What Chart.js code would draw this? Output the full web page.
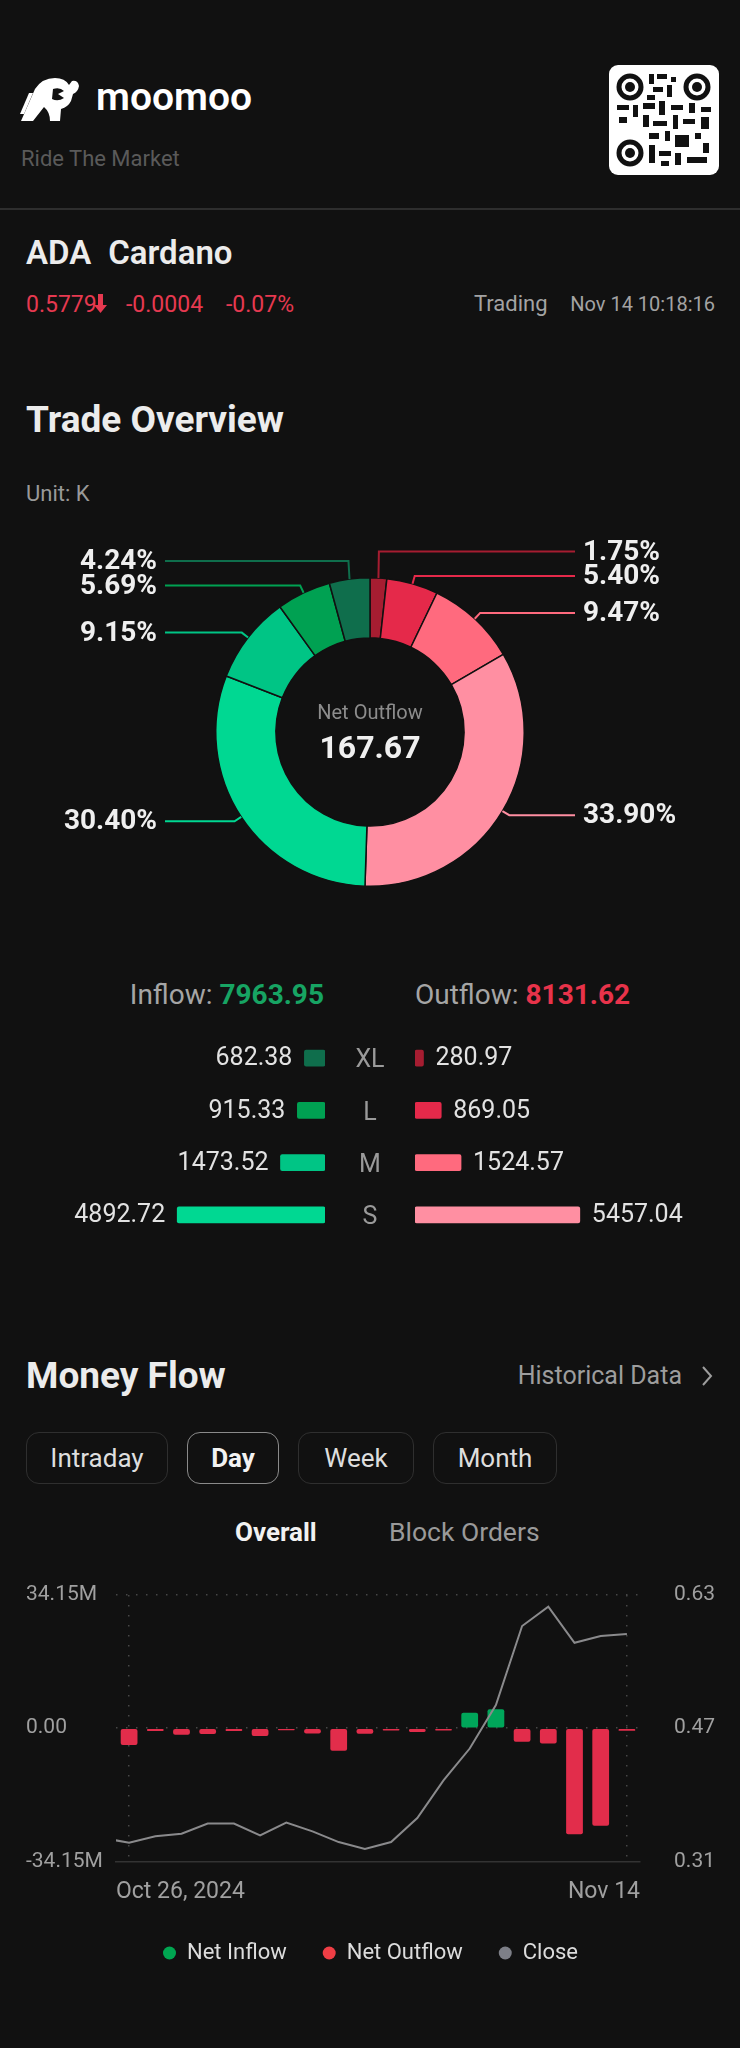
<!DOCTYPE html>
<html>
<head>
<meta charset="utf-8">
<script src="https://cdn.jsdelivr.net/npm/chart.js@4.4.1/dist/chart.umd.min.js"></script>
<style>
  html, body { margin: 0; padding: 0; background: #111111; }
  body { width: 740px; height: 2048px; position: relative; overflow: hidden; font-family: Roboto, "Noto Sans", sans-serif; color: #e8e8e8; }
  .t { position: absolute; line-height: 1; white-space: nowrap; }
  canvas { position: absolute; }
  .tab { position: absolute; top: 1432px; height: 50px; border: 1.5px solid #2f2f2f; border-radius: 13px;
         font-size: 26px; line-height: 50px; text-align: center; color: #dedede; box-sizing: content-box; }
</style>
</head>
<body>

<!-- header -->
<svg style="position:absolute;left:20px;top:76px" width="66" height="46" viewBox="0 0 66 46">
  <path fill="#fff" d="M1 45 L15 13 Q22 2 35 2 Q45 2 49 9 L52 5 Q58 4 59 10 Q58 16 53 18 L51 25 Q48 31 41 33 L40 45 L30 45 Q30 36 24 31 L13 45 Z"/>
  <path fill="#111" d="M33 13 Q40 11 44 15 L38 18 L44 22 Q38 26 32 23 Z"/>
  <path fill="#fff" d="M0 38 L9 17 L13 17 L4 38 Z"/>
</svg>
<div class="t" style="left:96px;top:78px;font-size:39px;font-weight:600;color:#fff">moomoo</div>
<div class="t" style="left:21px;top:148px;font-size:22px;color:#5a5a5a">Ride The Market</div>

<svg style="position:absolute;left:609px;top:65px" width="110" height="110" viewBox="0 0 110 110">
  <rect width="110" height="110" rx="9" fill="#fff"/>
  <g fill="none" stroke="#111" stroke-width="5">
    <circle cx="21" cy="22" r="11"/><circle cx="88" cy="22" r="11"/><circle cx="21" cy="88" r="11"/>
  </g>
  <g fill="#111">
    <circle cx="21" cy="22" r="5"/><circle cx="88" cy="22" r="5"/><circle cx="21" cy="88" r="5"/>
    <rect x="40" y="9" width="5" height="10"/><rect x="48" y="9" width="10" height="5"/><rect x="62" y="12" width="5" height="5"/>
    <rect x="44" y="22" width="10" height="5"/><rect x="58" y="20" width="5" height="12"/><rect x="38" y="30" width="8" height="5"/>
    <rect x="8" y="40" width="12" height="5"/><rect x="24" y="40" width="5" height="12"/><rect x="34" y="38" width="12" height="6"/>
    <rect x="50" y="36" width="6" height="14"/><rect x="62" y="40" width="12" height="5"/><rect x="80" y="38" width="6" height="10"/>
    <rect x="92" y="42" width="10" height="5"/><rect x="10" y="52" width="8" height="6"/><rect x="34" y="50" width="6" height="12"/>
    <rect x="44" y="56" width="14" height="5"/><rect x="64" y="50" width="5" height="14"/><rect x="74" y="54" width="12" height="5"/>
    <rect x="92" y="52" width="8" height="12"/><rect x="40" y="68" width="10" height="6"/><rect x="56" y="66" width="5" height="10"/>
    <rect x="66" y="70" width="14" height="12"/><rect x="86" y="68" width="6" height="6"/><rect x="40" y="80" width="6" height="18"/>
    <rect x="50" y="86" width="12" height="5"/><rect x="66" y="88" width="6" height="12"/><rect x="78" y="92" width="20" height="6"/>
    <rect x="52" y="96" width="8" height="5"/><rect x="94" y="78" width="6" height="10"/>
  </g>
</svg>

<div style="position:absolute;left:0;top:208px;width:740px;height:2px;background:#2e2e2e"></div>

<div class="t" style="left:26px;top:236px;font-size:33px;font-weight:600;color:#ececec">ADA<span style="margin-left:17px">Cardano</span></div>
<div class="t" style="left:26px;top:293px;font-size:23px;color:#e63950">0.5779</div>
<svg style="position:absolute;left:94px;top:294px" width="13" height="19" viewBox="0 0 13 19">
  <path fill="#e63950" d="M4 0 H9 V11 H13 L6.5 19 L0 11 H4 Z"/>
</svg>
<div class="t" style="left:126px;top:293px;font-size:23px;color:#e63950">-0.0004</div>
<div class="t" style="left:226px;top:293px;font-size:23px;color:#e63950">-0.07%</div>
<div class="t" style="left:474px;top:293px;font-size:22px;color:#a3a3a3">Trading</div>
<div class="t" style="right:25px;top:294px;font-size:20px;color:#a3a3a3">Nov 14 10:18:16</div>

<!-- trade overview -->
<div class="t" style="left:26px;top:401px;font-size:37px;font-weight:700;color:#ececec">Trade Overview</div>
<div class="t" style="left:26px;top:483px;font-size:22px;color:#999">Unit: K</div>

<canvas id="donut" width="740" height="400" style="left:0;top:520px;width:740px;height:400px"></canvas>
<div class="t" style="left:0;width:740px;text-align:center;top:702px;font-size:20px;color:#8c8c8c">Net Outflow</div>
<div class="t" style="left:0;width:740px;text-align:center;top:731px;font-size:32px;font-weight:700;color:#f0f0f0">167.67</div>

<div class="t" style="right:416px;top:981px;font-size:28px;color:#a5a5a5">Inflow: <span id="inTotal" style="color:#17a463;font-weight:700"></span></div>
<div class="t" style="left:415px;top:981px;font-size:28px;color:#a5a5a5">Outflow: <span id="outTotal" style="color:#e8334a;font-weight:700"></span></div>

<canvas id="inBars" width="325" height="209" style="left:0;top:1032px;width:325px;height:209px"></canvas>
<canvas id="outBars" width="325" height="209" style="left:415px;top:1032px;width:325px;height:209px"></canvas>
<div id="sizeNames"></div>

<!-- money flow -->
<div class="t" style="left:26px;top:1357px;font-size:37px;font-weight:700;color:#ececec">Money Flow</div>
<div class="t" style="right:58px;top:1363px;font-size:25px;color:#9d9d9d">Historical Data</div>
<svg style="position:absolute;left:701px;top:1365px" width="12" height="22" viewBox="0 0 12 22">
  <polyline points="2,2 10,11 2,20" fill="none" stroke="#9d9d9d" stroke-width="2"/>
</svg>

<div class="tab" style="left:26px;width:140px">Intraday</div>
<div class="tab" style="left:187px;width:90px;border-color:#8a8a8a;color:#f2f2f2;font-weight:700">Day</div>
<div class="tab" style="left:298px;width:114px">Week</div>
<div class="tab" style="left:433px;width:122px">Month</div>

<div class="t" style="left:235px;top:1519px;font-size:26px;font-weight:700;color:#f2f2f2">Overall</div>
<div class="t" style="left:389px;top:1519px;font-size:26.5px;color:#9a9a9a">Block Orders</div>

<canvas id="flowChart" width="740" height="404" style="left:0;top:1570px;width:740px;height:404px"></canvas>

<script>
// ---- trade overview data (unit: K) ----
const sizeLabels = ['XL', 'L', 'M', 'S'];
const inflowK = [682.38, 915.33, 1473.52, 4892.72];
const outflowK = [280.97, 869.05, 1524.57, 5457.04];
const inflowTotal = '7963.95';
const outflowTotal = '8131.62';

// ---- money flow data (net flow in M, close price) ----
const flowDates = ['Oct 26', 'Oct 27', 'Oct 28', 'Oct 29', 'Oct 30', 'Oct 31', 'Nov 1', 'Nov 2', 'Nov 3', 'Nov 4',
                   'Nov 5', 'Nov 6', 'Nov 7', 'Nov 8', 'Nov 9', 'Nov 10', 'Nov 11', 'Nov 12', 'Nov 13', 'Nov 14'];
const netFlow = [-4.3, -0.7, -1.7, -1.5, -0.7, -2.0, -0.5, -1.37, -5.8, -1.45,
                 -0.6, -0.95, -0.6, 3.93, 4.87, -3.5, -3.93, -27.2, -25.0, -0.68];
const closes = [0.3325, 0.3401, 0.3433, 0.3554, 0.3554, 0.3413, 0.3566, 0.3461, 0.3332, 0.3248,
                0.3332, 0.3621, 0.4074, 0.4456, 0.4977, 0.5927, 0.616, 0.5726, 0.5807, 0.5831];
const prevClose = 0.338; // day before the window, clipped at the left edge
const xTickLabels = ['Oct 26, 2024', 'Nov 14'];
const flowTicks = [-34.15, 0, 34.15];
const closeTicks = [0.31, 0.47, 0.63];

const inColors = ['#0f6e4c', '#00a152', '#00c585', '#00d892'];
const outColors = ['#a61d31', '#e5294a', '#ff6a7e', '#ff8fa2'];
const GREEN = '#00a65a';
const RED = '#e22d4b';
const GRID = '#474747';

Chart.defaults.font.family = 'Roboto, "Noto Sans", sans-serif';

document.getElementById('inTotal').textContent = inflowTotal;
document.getElementById('outTotal').textContent = outflowTotal;

// size names between the two bar charts
const rowCenters = [1058, 1110.5, 1163, 1215];
document.getElementById('sizeNames').innerHTML = sizeLabels.map((s, i) =>
  `<div class="t" style="left:0;width:740px;text-align:center;top:${rowCenters[i] - 12}px;font-size:25px;color:#9a9a9a">${s}</div>`
).join('');

// ---- donut ----
const donutValues = [...outflowK, ...inflowK.slice().reverse()];
const donutColors = [...outColors, ...inColors.slice().reverse()];
const donutNames = [...sizeLabels.map(s => 'Outflow ' + s), ...sizeLabels.slice().reverse().map(s => 'Inflow ' + s)];

const donutLabelPlugin = {
  id: 'donutLabelPlugin',
  afterDatasetsDraw(chart) {
    const ctx = chart.ctx;
    const meta = chart.getDatasetMeta(0);
    const total = donutValues.reduce((a, b) => a + b, 0);
    const items = meta.data.map((arc, i) => {
      const p = arc.getProps(['x', 'y', 'startAngle', 'endAngle', 'outerRadius'], true);
      const a = (p.startAngle + p.endAngle) / 2;
      return { i, cx: p.x, cy: p.y, a, r: p.outerRadius, right: Math.cos(a) >= 0,
               ly: p.y + (p.outerRadius + 8) * Math.sin(a) };
    });
    // push labels apart on each side
    [true, false].forEach(side => {
      const list = items.filter(it => it.right === side).sort((p, q) => p.ly - q.ly);
      for (let k = list.length - 2; k >= 0; k--) {
        if (list[k].ly > list[k + 1].ly - 24.5) list[k].ly = list[k + 1].ly - 24.5;
      }
    });
    ctx.save();
    ctx.lineWidth = 2;
    ctx.font = 'bold 28px Roboto, "Noto Sans", sans-serif';
    ctx.textBaseline = 'middle';
    items.forEach(it => {
      const px = it.cx + it.r * Math.cos(it.a);
      const py = it.cy + it.r * Math.sin(it.a);
      const ex = it.cx + (it.r + 8) * Math.cos(it.a);
      const endX = it.right ? it.cx + 205 : it.cx - 205;
      ctx.strokeStyle = donutColors[it.i];
      ctx.beginPath();
      ctx.moveTo(px, py);
      ctx.lineTo(ex, it.ly);
      ctx.lineTo(endX, it.ly);
      ctx.stroke();
      ctx.fillStyle = '#efefef';
      ctx.textAlign = it.right ? 'left' : 'right';
      const pct = (donutValues[it.i] / total * 100).toFixed(2) + '%';
      ctx.fillText(pct, it.right ? endX + 8 : endX - 8, it.ly + 1);
    });
    ctx.restore();
  }
};

new Chart(document.getElementById('donut'), {
  type: 'doughnut',
  data: {
    labels: donutNames,
    datasets: [{ data: donutValues, backgroundColor: donutColors, borderColor: '#111111', borderWidth: 1.5, hoverOffset: 0 }]
  },
  options: {
    responsive: false, animation: false, events: [],
    cutout: '61%',
    layout: { padding: { top: 57, bottom: 33 } },
    plugins: { legend: { display: false }, tooltip: { enabled: false } }
  },
  plugins: [donutLabelPlugin]
});

// ---- inflow / outflow bars per order size ----
const sizeAxisMax = 10760;

const barValueLabels = {
  id: 'barValueLabels',
  afterDatasetsDraw(chart, args, opts) {
    const ctx = chart.ctx;
    const meta = chart.getDatasetMeta(0);
    const vals = chart.data.datasets[0].data;
    ctx.save();
    ctx.font = '25px Roboto, "Noto Sans", sans-serif';
    ctx.fillStyle = '#e2e2e2';
    ctx.textBaseline = 'middle';
    ctx.textAlign = opts.side === 'left' ? 'right' : 'left';
    meta.data.forEach((bar, i) => {
      const x = opts.side === 'left' ? bar.x - 12 : bar.x + 12;
      ctx.fillText(vals[i].toFixed(2), x, bar.y + 1);
    });
    ctx.restore();
  }
};

function sizeChart(id, values, colors, side) {
  new Chart(document.getElementById(id), {
    type: 'bar',
    data: { labels: sizeLabels, datasets: [{ data: values, backgroundColor: colors, barThickness: 16, borderRadius: 2, borderSkipped: false }] },
    options: {
      indexAxis: 'y', responsive: false, animation: false, events: [],
      layout: { padding: 0 },
      plugins: { legend: { display: false }, tooltip: { enabled: false }, barValueLabels: { side } },
      scales: {
        x: { display: false, min: 0, max: sizeAxisMax, reverse: side === 'left' },
        y: { display: false }
      }
    },
    plugins: [barValueLabels]
  });
}
sizeChart('inBars', inflowK, inColors, 'left');
sizeChart('outBars', outflowK, outColors, 'right');

// ---- money flow chart ----
const closeLine = [{ x: -1, y: prevClose }, ...closes.map((c, i) => ({ x: i, y: c }))];
const tickFont = { size: 21 };

new Chart(document.getElementById('flowChart'), {
  data: {
    labels: flowDates,
    datasets: [
      { type: 'bar', label: 'Net Inflow', data: netFlow.map(v => v > 0 ? v : null), backgroundColor: GREEN,
        grouped: false, barPercentage: 0.64, categoryPercentage: 1, borderRadius: 2, borderSkipped: false, order: 1 },
      { type: 'bar', label: 'Net Outflow', data: netFlow.map(v => v < 0 ? v : null), backgroundColor: RED,
        grouped: false, barPercentage: 0.64, categoryPercentage: 1, borderRadius: 2, borderSkipped: false, order: 1 },
      { type: 'line', label: 'Close', data: closeLine, xAxisID: 'x2', yAxisID: 'y1',
        borderColor: '#8a8a8c', backgroundColor: '#7d7f87', borderWidth: 2, pointRadius: 0, tension: 0, order: 0 }
    ]
  },
  options: {
    responsive: false, animation: false, events: [],
    layout: { padding: { left: 26, right: 25, top: 25, bottom: 0 } },
    plugins: {
      tooltip: { enabled: false },
      legend: {
        position: 'bottom',
        labels: {
          usePointStyle: true, pointStyle: 'circle', boxWidth: 13, boxHeight: 9.2, padding: 36,
          color: '#dcdcdc', font: { size: 22 },
          sort: (a, b) => a.datasetIndex - b.datasetIndex,
          generateLabels(chart) {
            const dots = ['#00a651', '#ef3e45', '#7d7f87'];
            return Chart.defaults.plugins.legend.labels.generateLabels(chart)
              .map(l => ({ ...l, lineWidth: 0, strokeStyle: 'transparent', fillStyle: dots[l.datasetIndex] }));
          }
        }
      }
    },
    scales: {
      x: {
        type: 'category', offset: true, weight: 0,
        grid: { offset: false, drawTicks: false, lineWidth: 1.5,
                color: c => (c.index === 0 || c.index === flowDates.length - 1) ? GRID : 'transparent' },
        border: { display: true, color: '#333333', width: 1.5, dash: [1.5, 8.5] },
        ticks: { display: false }
      },
      x2: {
        type: 'linear', position: 'bottom', weight: 1,
        min: -0.5, max: flowDates.length - 0.5,
        grid: { display: false, drawTicks: false },
        border: { display: false },
        afterBuildTicks: s => { s.ticks = [{ value: -0.5 }, { value: flowDates.length - 0.5 }]; },
        afterFit: s => { s.height = 44.6; },
        ticks: { align: 'inner', padding: 17, maxRotation: 0, autoSkip: false, color: '#a0a0a0', font: { size: 23 },
                 callback: (v, i) => xTickLabels[i] }
      },
      y: {
        position: 'left', min: flowTicks[0], max: flowTicks[2],
        afterBuildTicks: s => { s.ticks = flowTicks.map(v => ({ value: v })); },
        afterFit: s => { s.width = 90; },
        grid: { drawTicks: false, lineWidth: 1.5, color: c => c.index === 0 ? 'transparent' : GRID },
        border: { display: false, dash: [1.5, 8.5] },
        ticks: { crossAlign: 'far', padding: 0, color: '#a0a0a0', font: tickFont,
                 callback: v => v === 0 ? '0.00' : v.toFixed(2) + 'M' }
      },
      y1: {
        position: 'right', min: closeTicks[0], max: closeTicks[2],
        afterBuildTicks: s => { s.ticks = closeTicks.map(v => ({ value: v })); },
        afterFit: s => { s.width = 75; },
        grid: { display: false, drawTicks: false },
        border: { display: false },
        ticks: { crossAlign: 'far', padding: 0, color: '#a0a0a0', font: tickFont,
                 callback: v => v.toFixed(2) }
      }
    }
  }
});
</script>
</body>
</html>
